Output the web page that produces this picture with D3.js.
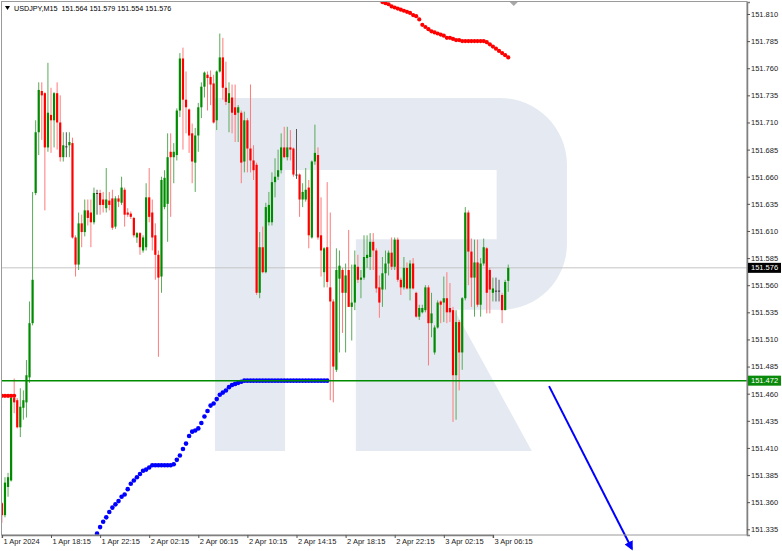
<!DOCTYPE html>
<html><head><meta charset="utf-8">
<script src="https://cdn.jsdelivr.net/npm/d3@7"></script>
<style>body{margin:0;background:#fff}svg{display:block}text{font-family:"Liberation Sans",Arial,sans-serif}</style>
</head><body><svg id="c" width="782" height="551"></svg>
<script>
// ---------- DATA ----------
const symbol = "USDJPY,M15";
const lastOHLC = [151.564, 151.579, 151.554, 151.576];
const timeTickBars = [0, 16, 32, 48, 64, 80, 96, 112, 128, 144, 160];
const timeTickLabels = ["1 Apr 2024","1 Apr 18:15","1 Apr 22:15","2 Apr 02:15","2 Apr 06:15","2 Apr 10:15","2 Apr 14:15","2 Apr 18:15","2 Apr 22:15","3 Apr 02:15","3 Apr 06:15"];
const priceTicks = [151.335,151.360,151.385,151.410,151.435,151.460,151.485,151.510,151.535,151.560,151.585,151.610,151.635,151.660,151.685,151.710,151.735,151.760,151.785,151.810];
const opens = [
151.359,151.348,151.374,151.380,151.456,151.454,151.429,151.447,151.452,151.475,
151.525,151.645,151.701,151.739,151.737,151.687,151.717,151.712,151.737,151.710,
151.678,151.688,151.689,151.691,151.604,151.579,151.617,151.609,151.629,151.627,
151.618,151.645,151.645,151.639,151.631,151.638,151.640,151.614,151.640,151.636,
151.648,151.627,151.626,151.622,151.604,151.608,151.592,151.595,151.641,151.627,
151.606,151.588,151.568,151.632,151.635,151.683,151.678,151.680,151.721,151.769,
151.731,151.722,151.700,151.673,151.698,151.724,151.743,151.754,151.752,151.746,
151.712,151.757,151.770,151.742,151.728,151.733,151.724,151.719,151.719,151.674,
151.712,151.686,151.675,151.671,151.553,151.595,151.572,151.618,151.618,151.655,
151.660,151.666,151.687,151.678,151.687,151.686,151.662,151.662,151.639,151.639,
151.650,151.604,151.674,151.680,151.606,151.572,151.595,151.558,151.545,151.482,
151.566,151.574,151.553,151.574,151.540,151.544,151.577,151.565,151.567,151.585,
151.586,151.600,151.592,151.558,151.556,151.571,151.580,151.590,151.577,151.602,
151.565,151.558,151.576,151.557,151.580,151.553,151.531,151.535,151.537,151.558,
151.525,151.498,151.521,151.545,151.544,151.548,151.539,151.537,151.477,151.526,
151.498,151.548,151.627,151.591,151.567,151.581,151.542,151.580,151.594,151.574,
151.553,151.555,151.555,151.551,151.537,151.564];
const highs = [
151.360,151.383,151.387,151.457,151.474,151.456,151.465,151.463,151.491,151.545,
151.646,151.712,151.747,151.747,151.738,151.765,151.742,151.738,151.747,151.735,
151.701,151.701,151.701,151.696,151.606,151.627,151.625,151.639,151.639,151.639,
151.650,151.648,151.648,151.646,151.668,151.646,151.648,151.642,151.643,151.660,
151.650,151.631,151.628,151.623,151.609,151.609,151.606,151.654,151.668,151.639,
151.617,151.592,151.660,151.666,151.700,151.700,151.691,151.723,151.774,151.779,
151.757,151.723,151.709,151.705,151.728,151.747,151.757,151.757,151.758,151.754,
151.758,151.792,151.788,151.766,151.747,151.745,151.745,151.726,151.721,151.720,
151.714,151.745,151.689,151.673,151.609,151.614,151.636,151.646,151.664,151.677,
151.685,151.700,151.706,151.706,151.703,151.687,151.704,151.663,151.654,151.668,
151.657,151.675,151.708,151.687,151.641,151.595,151.655,151.627,151.547,151.594,
151.592,151.576,151.580,151.611,151.579,151.592,151.588,151.574,151.606,151.606,
151.608,151.608,151.594,151.569,151.586,151.592,151.592,151.604,151.604,151.604,
151.567,151.586,151.581,151.583,151.585,151.554,151.542,151.542,151.560,151.560,
151.553,151.523,151.546,151.546,151.568,151.572,151.562,151.540,151.537,151.528,
151.549,151.632,151.629,151.603,151.602,151.602,151.585,151.603,151.595,151.576,
151.567,151.567,151.565,151.553,151.565,151.579];
const lows = [
151.341,151.346,151.365,151.379,151.442,151.428,151.420,151.436,151.438,151.470,
151.523,151.643,151.680,151.694,151.629,151.683,151.682,151.687,151.685,151.674,
151.674,151.678,151.678,151.603,151.568,151.574,151.595,151.605,151.615,151.595,
151.616,151.625,151.625,151.627,151.627,151.629,151.611,151.612,151.632,151.634,
151.614,151.623,151.621,151.604,151.599,151.588,151.590,151.592,151.618,151.592,
151.565,151.494,151.553,151.630,151.600,151.623,151.654,151.675,151.715,151.685,
151.700,151.682,151.654,151.646,151.683,151.714,151.733,151.721,151.726,151.709,
151.703,151.756,151.731,151.726,151.701,151.700,151.692,151.692,151.654,151.664,
151.664,151.664,151.657,151.551,151.548,151.571,151.571,151.615,151.615,151.641,
151.657,151.663,151.677,151.675,151.675,151.660,151.658,151.623,151.632,151.637,
151.594,151.603,151.671,151.602,151.568,151.558,151.558,151.454,151.452,151.480,
151.498,151.516,151.498,151.540,151.509,151.537,151.562,151.548,151.565,151.576,
151.574,151.574,151.553,151.530,151.540,151.556,151.569,151.574,151.574,151.563,
151.551,151.556,151.556,151.546,151.556,151.530,151.528,151.534,151.535,151.486,
151.512,151.496,151.520,151.525,151.526,151.525,151.526,151.434,151.436,151.463,
151.482,151.546,151.560,151.540,151.531,151.540,151.531,151.578,151.534,151.534,
151.545,151.545,151.545,151.525,151.537,151.554];
const closes = [
151.348,151.378,151.383,151.456,151.452,151.429,151.448,151.454,151.477,151.525,
151.565,151.701,151.740,151.735,151.687,151.719,151.712,151.737,151.710,151.678,
151.689,151.688,151.692,151.604,151.579,151.617,151.609,151.629,151.622,151.618,
151.645,151.645,151.634,151.634,151.639,151.634,151.613,151.640,151.637,151.650,
151.625,151.625,151.623,151.606,151.608,151.595,151.604,151.641,151.623,151.604,
151.588,151.567,151.657,151.659,151.678,151.678,151.683,151.721,151.769,151.731,
151.724,151.698,151.674,151.698,151.724,151.743,151.756,151.751,151.745,151.710,
151.757,151.770,151.742,151.729,151.737,151.719,151.717,151.724,151.673,151.712,
151.686,151.675,151.666,151.553,151.595,151.572,151.632,151.634,151.655,151.660,
151.666,151.687,151.678,151.687,151.685,151.662,151.662,151.639,151.646,151.648,
151.606,151.674,151.682,151.604,151.592,151.594,151.563,151.545,151.485,151.574,
151.578,151.553,151.569,151.540,151.544,151.579,151.565,151.567,151.586,151.588,
151.600,151.592,151.557,151.544,151.571,151.580,151.590,151.577,151.602,151.565,
151.558,151.576,151.557,151.580,151.557,151.531,151.539,151.539,151.558,151.525,
151.534,151.521,151.544,151.542,151.548,151.535,151.535,151.477,151.526,151.498,
151.548,151.627,151.591,151.567,151.581,151.542,151.580,151.595,151.553,151.556,
151.557,151.555,151.555,151.537,151.563,151.576];
// indicator dots above price (red) and below price (blue)
const redDotsAStart = 0;
const redDotsA = [151.458,151.458,151.458,151.458,151.458];
const redDotsBStart = 124;
const redDotsB = [151.821,151.820,151.819,151.817,151.816,151.815,151.814,151.813,151.812,151.811,
151.809,151.808,151.805,151.800,151.798,151.796,151.794,151.793,151.792,151.791,
151.790,151.788,151.788,151.787,151.786,151.786,151.785,151.785,151.785,151.785,
151.785,151.785,151.785,151.785,151.784,151.782,151.780,151.778,151.776,151.774,
151.772,151.770];
const blueDotsStart = 31;
const blueDots = [151.331,151.337,151.342,151.346,151.351,151.355,151.358,151.361,151.365,151.367,
151.372,151.377,151.380,151.383,151.386,151.389,151.390,151.392,151.394,151.394,
151.394,151.394,151.394,151.394,151.394,151.395,151.399,151.403,151.409,151.414,
151.421,151.425,151.426,151.428,151.433,151.439,151.444,151.449,151.451,151.455,
151.459,151.461,151.463,151.466,151.468,151.469,151.470,151.471,151.472,151.472,
151.472,151.472,151.472,151.472,151.472,151.472,151.472,151.472,151.472,151.472,
151.472,151.472,151.472,151.472,151.472,151.472,151.472,151.472,151.472,151.472,
151.472,151.472,151.472,151.472,151.472,151.472];
const levelPrice = 151.472;
const currentPrice = 151.576;
const arrowBars = [178.3, 205.3];
const arrowPrices = [151.467, 151.317];

// ---------- LAYOUT ----------
const svg = d3.select("#c");
const P = {l:2, t:2, r:747, b:535};
const x = d3.scaleLinear().domain([0,160]).range([1.9, 492.9]);
const y = d3.scaleLinear().domain([151.32973, 151.82106]).range([P.b, P.t]);
const fs = 7.5;

svg.append("defs").append("clipPath").attr("id","clip")
  .append("rect").attr("x",P.l).attr("y",P.t).attr("width",P.r-P.l).attr("height",P.b-P.t);
const defs = svg.select("defs");
defs.append("marker").attr("id","ah").attr("viewBox","0 0 10 10").attr("refX",8).attr("refY",5)
  .attr("markerWidth",4.5).attr("markerHeight",4.5).attr("orient","auto")
  .append("path").attr("d","M0,0L10,5L0,10z").attr("fill","#0000ff");

// watermark logo (decorative), shape in unit box
const lb = {x:215, y:98, w:352, h:353};
const u = d3.scaleLinear().domain([0,1]).range([lb.x, lb.x+lb.w]);
const v = d3.scaleLinear().domain([0,1]).range([lb.y, lb.y+lb.h]);
const wp = d3.path();
wp.moveTo(u(0),v(0)); wp.lineTo(u(0.81),v(0));
wp.arcTo(u(1),v(0),u(1),v(0.19),67);
wp.lineTo(u(1),v(0.43));
wp.arcTo(u(1),v(0.60),u(0.78),v(0.60),66);
wp.lineTo(u(0.68),v(0.60)); wp.lineTo(u(0.90),v(1)); wp.lineTo(u(0.40),v(1));
wp.lineTo(u(0.40),v(0.40)); wp.lineTo(u(0.80),v(0.40)); wp.lineTo(u(0.80),v(0.204));
wp.lineTo(u(0.199),v(0.204)); wp.lineTo(u(0.199),v(1)); wp.lineTo(u(0),v(1)); wp.closePath();
svg.append("path").attr("d",wp.toString()).attr("fill","#e5eaf2");

const g = svg.append("g").attr("clip-path","url(#clip)");

// current price line
g.append("line").attr("x1",P.l).attr("x2",P.r).attr("y1",y(currentPrice)).attr("y2",y(currentPrice))
  .attr("stroke","#c4c4c4").attr("stroke-width",1);

// candles
const bars = opens.map((o,i)=>({i,o,h:highs[i],l:lows[i],c:closes[i]}));
const col = d => d.c > d.o ? "#008c00" : d.c < d.o ? "#ff0000" : "#333333";
const wcol = d => d.c > d.o ? "#5aaa5a" : d.c < d.o ? "#ff7a7a" : "#555555";
g.selectAll(".wick").data(bars).join("line")
  .attr("x1",d=>x(d.i)).attr("x2",d=>x(d.i))
  .attr("y1",d=>y(Math.max(d.h,d.o,d.c))).attr("y2",d=>y(Math.min(d.l,d.o,d.c)))
  .attr("stroke",wcol).attr("stroke-width",1);
g.selectAll(".body").data(bars).join("rect")
  .attr("x",d=>x(d.i)-1.1).attr("width",2.2)
  .attr("y",d=>y(Math.max(d.o,d.c)))
  .attr("height",d=>Math.max(1, y(Math.min(d.o,d.c))-y(Math.max(d.o,d.c))))
  .attr("fill",col);

// indicator dots
const dots = (arr,start,color,r)=> g.append("g").selectAll("circle").data(arr).join("circle")
  .attr("cx",(d,k)=>x(start+k)).attr("cy",d=>y(d)).attr("r",r).attr("fill",color);
dots(redDotsA, redDotsAStart, "#ff0000", 2.1);
dots(redDotsB, redDotsBStart, "#ff0000", 2.1);
dots(blueDots, blueDotsStart, "#0000ff", 2.3);

// level line
g.append("line").attr("x1",P.l).attr("x2",P.r).attr("y1",y(levelPrice)).attr("y2",y(levelPrice))
  .attr("stroke","#008a00").attr("stroke-width",1.5);

// arrow
svg.append("line").attr("x1",x(arrowBars[0])).attr("y1",y(arrowPrices[0]))
  .attr("x2",x(arrowBars[1])).attr("y2",y(arrowPrices[1]))
  .attr("stroke","#0000ff").attr("stroke-width",2).attr("marker-end","url(#ah)");

// frame
svg.append("rect").attr("x",P.l-0.5).attr("y",P.t-0.5).attr("width",P.r-P.l+0.5).attr("height",P.b-P.t+0.5)
  .attr("fill","none").attr("stroke","#9a9a9a").attr("stroke-width",1);

// right axis
const ya = svg.append("g").attr("transform",`translate(${P.r},0)`)
  .call(d3.axisRight(y).tickValues(priceTicks).tickSize(3).tickPadding(1).tickFormat(d3.format(".3f")));
ya.select(".domain").attr("stroke","#808080").attr("stroke-width",1.5);
ya.selectAll(".tick line").attr("stroke","#555");
ya.selectAll(".tick text").attr("font-size",fs).attr("fill","#222").attr("font-family","Liberation Sans, Arial, sans-serif");

// bottom axis
const xa = svg.append("g").attr("transform",`translate(0,${P.b})`)
  .call(d3.axisBottom(x).tickValues(timeTickBars).tickSize(3).tickFormat((d,k)=>timeTickLabels[k]));
xa.select(".domain").attr("stroke","#808080").attr("stroke-width",1.5);
xa.selectAll(".tick line").attr("stroke","#555");
xa.selectAll(".tick text").attr("font-size",fs).attr("fill","#222").attr("text-anchor","start")
  .attr("dx",1).attr("dy",3).attr("font-family","Liberation Sans, Arial, sans-serif");

// price label boxes
function priceBox(p, bg){
  const yy = y(p);
  svg.append("rect").attr("x",P.r+1).attr("y",yy-5).attr("width",33).attr("height",10).attr("fill",bg);
  svg.append("text").attr("x",P.r+4).attr("y",yy).attr("dy","0.35em").attr("font-size",fs)
    .attr("fill","#fff").text(d3.format(".3f")(p));
}
priceBox(currentPrice, "#000");
priceBox(levelPrice, "#0a8a0a");

// chart shift marker
const sx = x(opens.length - 1) + 5.5;
svg.append("path").attr("d",`M${sx-4},${P.t}L${sx+4},${P.t}L${sx},${P.t+4}Z`).attr("fill","#a8a8a8");

// header
svg.append("path").attr("d","M5,6L10,6L7.5,10Z").attr("fill","#000");
svg.append("text").attr("x",14).attr("y",11).attr("font-size",7.2).attr("fill","#000")
  .attr("xml:space","preserve")
  .text(symbol + "  " + lastOHLC.map(d3.format(".3f")).join(" "));
</script></body></html>
